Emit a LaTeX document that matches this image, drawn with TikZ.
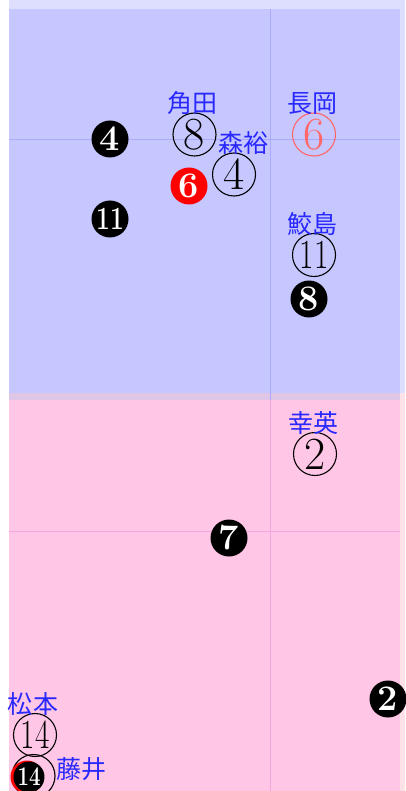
\documentclass[tikz,border=0pt]{standalone}
\usepackage{fontspec}
\usetikzlibrary{positioning}
\newfontfamily\jpfont{Noto Sans CJK JP}
\definecolor{topshade}{RGB}{222,222,255}
\definecolor{topcourt}{RGB}{199,199,255}
\definecolor{botshade}{RGB}{255,226,232}
\definecolor{botcourt}{RGB}{255,198,230}
\definecolor{overlapcol}{RGB}{224,198,230}
\definecolor{topgrid}{RGB}{170,170,255}
\definecolor{botgrid}{RGB}{245,165,225}
\definecolor{namecolor}{RGB}{40,40,255}
\definecolor{salmon}{RGB}{255,102,102}
\tikzset{
    opencirc/.style={circle, draw=black, line width=1.1pt, minimum size=43pt,
        inner sep=0pt, font=\fontsize{46}{46}\selectfont},
    fillcirc/.style={circle, fill=black, text=white, minimum size=37pt,
        inner sep=0pt, font=\fontsize{36}{36}\selectfont\bfseries},
    namelabel/.style={text=namecolor, inner sep=0pt,
        font=\jpfont\fontsize{25}{25}\selectfont},
    gridline/.style={line width=0.8pt}
}
\newcommand{\twodig}[1]{\scalebox{0.68}[0.9]{#1}}

\begin{document}
\begin{tikzpicture}[x=1pt, y=-1pt]
    \useasboundingbox (0,0) rectangle (405,791);

    % courts
    \fill[topshade] (9,0) rectangle (405,393);
    \fill[botshade] (9,393) rectangle (405,791);
    \fill[topcourt] (9,9) rectangle (400,393);
    \fill[overlapcol] (9,393) rectangle (400,400);
    \fill[botcourt] (9,400) rectangle (400,791);

    \draw[gridline, topgrid] (270,9) -- (270,400) (9,139) -- (400,139);
    \draw[gridline, botgrid] (270,400) -- (270,791) (9,531) -- (400,531);

    % top half
    \node[fillcirc] (p4) at (110,139) {4};
    \node[fillcirc] (p11) at (110,219) {\twodig{11}};
    \node[opencirc] (kakuda) at (194.5,134.5) {8};
    \node[namelabel, above=-2.5pt of kakuda, xshift=-2pt] (kakudaname) {角田};
    \node[fillcirc, fill=red] (p6) at (189,186) {6};
    \node[opencirc] (morihiro) at (234,174.5) {4};
    \node[namelabel, above=-2.5pt of morihiro, xshift=9pt] (morihironame) {森裕};
    \node[opencirc, draw=salmon, text=salmon] (nagaoka) at (314,134.5) {6};
    \node[namelabel, above=-2.5pt of nagaoka, xshift=-2pt] (nagaokaname) {長岡};
    \node[opencirc] (samejima) at (314,255) {\twodig{11}};
    \node[namelabel, above=-2.5pt of samejima, xshift=-2pt] (samejimaname) {鮫島};
    \node[fillcirc] (p8) at (309,299) {8};

    % bottom half
    \node[opencirc] (yukihide) at (315,454) {2};
    \node[namelabel, above=-2.5pt of yukihide, xshift=-2pt] (yukihidename) {幸英};
    \node[fillcirc] (p7) at (229,538) {7};
    \node[fillcirc] (p2) at (388,699) {2};
    \node[opencirc] (matsumoto) at (35,735) {\twodig{14}};
    \node[namelabel, above=-3pt of matsumoto, xshift=-2pt] (matsumotoname) {松本};
    \node[opencirc] (fujii) at (33.5,776) {};
    \node[fillcirc, fill=red, minimum size=33pt] (p6b) at (27,777) {};
    \node[fillcirc, minimum size=31pt, font=\fontsize{30}{30}\selectfont\bfseries] (p14) at (29,777) {\twodig{14}};
    \node[namelabel, right=1pt of fujii, yshift=7pt] (fujiiname) {藤井};

\end{tikzpicture}
\end{document}
